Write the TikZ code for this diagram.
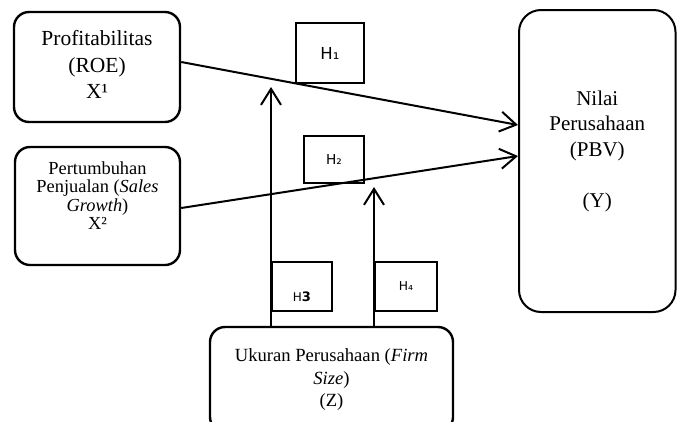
\documentclass[tikz,border=0pt]{standalone}
\usepackage{fontspec}
\setmainfont{Liberation Serif}
\newfontfamily\hfont{DejaVu Sans}
\usetikzlibrary{arrows.meta}
\tikzset{
  varbox/.style={draw, line width=2.4pt, inner sep=0pt, align=center},
  hbox/.style={draw, line width=1.2pt, inner sep=0pt, font=\hfont},
  link/.style={line width=2pt, -{Straight Barb[length=16pt,width=20pt]}}
}
\begin{document}
\begin{tikzpicture}[x=1pt,y=-1pt]
\useasboundingbox (0,0) rectangle (677,421);
\clip (0,0) rectangle (677,421);
% variable boxes
\node[varbox, rounded corners=15pt, minimum width=166pt, minimum height=110pt,
      font=\fontsize{21.5}{26.5}\selectfont] (X1) at (97,67)
  {\begin{tabular}{@{}c@{}}Profitabilitas\\(ROE)\\X¹\end{tabular}};
\node[varbox, rounded corners=15pt, minimum width=165pt, minimum height=118pt,
      font=\fontsize{18.4}{18.5}\selectfont] (X2) at (97.5,206)
  {\begin{tabular}{@{}c@{}}Pertumbuhan\\Penjualan (\textit{Sales}\\\textit{Growth})\\X²\\[15pt]\end{tabular}};
\node[varbox, line width=2pt, rounded corners=22pt, minimum width=156.5pt, minimum height=302pt,
      font=\fontsize{21}{25.5}\selectfont] (Y) at (597.25,161)
  {\begin{tabular}{@{}c@{}}Nilai\\Perusahaan\\(PBV)\\ \\(Y)\\[20pt]\end{tabular}};
\node[varbox, rounded corners=15pt, minimum width=243pt, minimum height=105pt,
      font=\fontsize{18.6}{22.5}\selectfont] (Z) at (331.5,379.5)
  {\begin{tabular}{@{}c@{}}Ukuran Perusahaan (\textit{Firm}\\\textit{Size})\\(Z)\end{tabular}};
% hypothesis boxes
\node[hbox, minimum width=68pt, minimum height=60pt, font=\hfont\fontsize{16.5}{18}\selectfont] (H1) at (330,53) {H₁};
\node[hbox, minimum width=60pt, minimum height=47pt, font=\hfont\fontsize{13.7}{15}\selectfont] (H2) at (334,159.5) {H₂};
\node[hbox, minimum width=60pt, minimum height=49pt, font=\hfont\fontsize{12}{14}\selectfont,
      text height=29pt, text depth=0pt] (H3) at (302,286.5) {H\textbf{\fontsize{13}{14}\selectfont 3}};
\node[hbox, minimum width=62pt, minimum height=49pt, font=\hfont\fontsize{12.3}{14}\selectfont] (H4) at (406,286.5) {H₄};
% arrow tips of moderator lines
\coordinate (t1) at (271,87);
\coordinate (t2) at (374,187);
% connectors
\draw[link] ([yshift=5pt]X1.east) -- ([yshift=36pt]Y.west);
\draw[link] ([yshift=-2pt]X2.east) -- ([yshift=5pt]Y.west);
\draw[link] (Z.north -| t1) -- (t1);
\draw[link] (Z.north -| t2) -- (t2);
\end{tikzpicture}
\end{document}
